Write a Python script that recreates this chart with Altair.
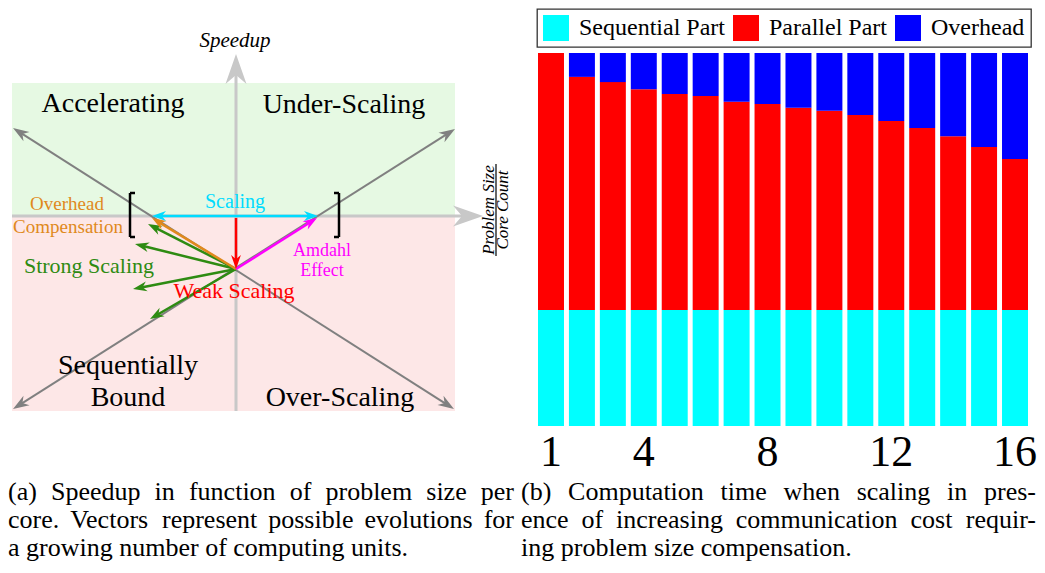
import math
import altair as alt
import pandas as pd

FONT = "Liberation Serif"

# ---------------- (b) stacked bars ----------------
core_counts = list(range(1, 17))
sequential_part = [31.1, 31.1, 31.1, 31.1, 31.1, 31.1, 31.1, 31.1,
                   31.1, 31.1, 31.1, 31.1, 31.1, 31.1, 31.1, 31.1]
parallel_part = [68.9, 62.5, 61.1, 59.2, 57.9, 57.4, 55.8, 55.2,
                 54.2, 53.4, 52.3, 50.7, 48.8, 46.6, 43.7, 40.5]
overhead_part = [0.0, 6.4, 7.8, 9.7, 11.0, 11.5, 13.1, 13.7,
                 14.7, 15.5, 16.6, 18.2, 20.1, 22.3, 25.2, 28.4]
series_names = ["Sequential Part", "Parallel Part", "Overhead"]
series_colors = ["#00ffff", "#ff0000", "#0000ff"]
core_tick_labels = [1, 4, 8, 12, 16]

caption_a = ["(a) Speedup in function of problem size per",
             "core. Vectors represent possible evolutions for",
             "a growing number of computing units."]
caption_b = ["(b) Computation time when scaling in pres-",
             "ence of increasing communication cost requir-",
             "ing problem size compensation."]

# ---------------- (a) diagram (origin = axes crossing, 1 unit = 1 px) ----------------
zone_x0 = [-224, -224]
zone_x1 = [219, 219]
zone_y0 = [0, -195]
zone_y1 = [133, 0]
zone_fill = ["#e6f9e3", "#fde7e7"]

GREEN = "#2e8b12"
ORANGE = "#e0891c"
CYAN = "#00dcff"
seg_x0 = [0, -224, -223, -223, 0, 0, 0, 0, 0, 0, 0, -84,
          -106, -106, -106, 103, 103, 103, 260]
seg_y0 = [-195, 0, 88, -193, -53, -53, -53, -53, -53, -2, -53, 0,
          23, 23, -21, 23, 23, -21, 52]
seg_x1 = [0, 247, 218, 219, -88, -101, -103, -86, -84, 0, 81, 82,
          -106, -101, -101, 103, 98, 98, 260]
seg_y1 = [162, 0, -193, 87, -8, -28, -73, -103, -2, -53, -2, 0,
          -21, 23, -21, -21, 23, -21, -40]
seg_color = ["#c8c8c8", "#c8c8c8", "#808080", "#808080",
             GREEN, GREEN, GREEN, GREEN, ORANGE, "#ff0000", "#ff00ff", CYAN,
             "black", "black", "black", "black", "black", "black", "black"]
seg_width = [3, 3, 2, 2, 2.5, 2.5, 2.5, 2.5, 2.5, 2.5, 2.5, 2.5,
             2.5, 2.5, 2.5, 2.5, 2.5, 2.5, 1.2]
seg_heads = ["end", "end", "both", "both", "end", "end", "end", "end", "end", "end", "end", "both",
             "none", "none", "none", "none", "none", "none", "none"]
seg_headtype = ["big", "big", "diag", "diag", "small", "small", "small", "small", "small",
                "small", "small", "small", "", "", "", "", "", "", ""]
head_radius = {"big": 15, "diag": 8, "small": 7}

quad_text = ["Accelerating", "Under-Scaling", "Sequentially", "Bound", "Over-Scaling"]
quad_x = [-123, 108, -108, -108, 104]
quad_y = [104, 103, -158, -190, -190]

vec_text = ["Scaling", "Overhead", "Compensation", "Strong Scaling", "Weak Scaling", "Amdahl", "Effect"]
vec_x = [-1, -169, -168, -147, -2, 86, 86]
vec_y = [8, 6, -17, -57, -82, -40, -60]
vec_size = [20, 19, 19, 22, 22, 18, 18]
vec_color = [CYAN, ORANGE, ORANGE, GREEN, "#ff0000", "#ff00ff", "#ff00ff"]

axis_title_y = ["Speedup"]
frac_text = ["Problem Size", "Core Count"]
frac_x = [253, 267]
frac_y = [6, 6]

# ---------------- build tables ----------------
HEAD = "M0,0 L-0.7,2 L0,1.4 L0.7,2 Z"
seg_rows, head_rows = [], []
for i in range(len(seg_x0)):
    x0, y0, x1, y1 = seg_x0[i], seg_y0[i], seg_x1[i], seg_y1[i]
    L = math.hypot(x1 - x0, y1 - y0)
    ux, uy = (x1 - x0) / L, (y1 - y0) / L
    r = head_radius.get(seg_headtype[i], 0)
    sx0, sy0, sx1, sy1 = x0, y0, x1, y1
    if seg_heads[i] in ("end", "both"):
        sx1, sy1 = x1 - ux * 1.2 * r, y1 - uy * 1.2 * r
        head_rows.append(dict(x=x1, y=y1, angle=math.degrees(math.atan2(ux, uy)) % 360,
                              size=(2 * r) ** 2, color=seg_color[i]))
    if seg_heads[i] == "both":
        sx0, sy0 = x0 + ux * 1.2 * r, y0 + uy * 1.2 * r
        head_rows.append(dict(x=x0, y=y0, angle=math.degrees(math.atan2(-ux, -uy)) % 360,
                              size=(2 * r) ** 2, color=seg_color[i]))
    seg_rows.append(dict(x=sx0, y=sy0, x2=sx1, y2=sy1, color=seg_color[i], w=seg_width[i]))

seg_df = pd.DataFrame(seg_rows)
head_df = pd.DataFrame(head_rows)
zone_df = pd.DataFrame(dict(x0=zone_x0, x1=zone_x1, y0=zone_y0, y1=zone_y1, fill=zone_fill))
quad_df = pd.DataFrame(dict(t=quad_text, x=quad_x, y=quad_y))
vec_df = pd.DataFrame(dict(t=vec_text, x=vec_x, y=vec_y, size=vec_size, color=vec_color))
ytitle_df = pd.DataFrame(dict(t=axis_title_y, x=[-1], y=[169]))
frac_df = pd.DataFrame(dict(t=frac_text, x=frac_x, y=frac_y))

# ---- justified captions (word placement with Times-compatible advance widths) ----
CAP_FS = 26
CAP_LH = 28
ADV = {' ': 250, '(': 333, ')': 333, '-': 333, '.': 250,
       'a': 444, 'b': 500, 'c': 444, 'd': 500, 'e': 444, 'f': 333, 'g': 500, 'h': 500,
       'i': 278, 'j': 278, 'k': 500, 'l': 278, 'm': 778, 'n': 500, 'o': 500, 'p': 500,
       'q': 500, 'r': 333, 's': 389, 't': 278, 'u': 500, 'v': 500, 'w': 722, 'x': 500,
       'y': 500, 'z': 444, 'S': 556, 'V': 722, 'C': 667}


def tw(s):
    return sum(ADV.get(c, 500) for c in s) / 1000.0 * CAP_FS


def justify(lines, x_start, x_end, y_first, dy):
    out_l, out_r = [], []
    for li, line in enumerate(lines):
        words = line.split()
        y = y_first - li * dy
        last = li == len(lines) - 1
        if last or len(words) < 2:
            gap = tw(" ")
        else:
            gap = (x_end - x_start - sum(tw(w) for w in words)) / (len(words) - 1)
        x = x_start
        for wi, w in enumerate(words):
            if not last and wi == len(words) - 1:
                out_r.append(dict(t=w, x=x_end, y=y))
            else:
                out_l.append(dict(t=w, x=x, y=y))
            x += tw(w) + gap
    return out_l, out_r


# diagram units: x = ref_px - 236, y = 215 - ref_px
la, ra = justify(caption_a, 8 - 236, 514 - 236, 215 - 499, CAP_LH)
lb, rb = justify(caption_b, 521 - 236, 1036 - 236, 215 - 499, CAP_LH)
cap_left_df = pd.DataFrame(la + lb)
cap_right_df = pd.DataFrame(ra + rb)

xs = alt.Scale(domain=[-228, 284], nice=False, zero=False)
ys = alt.Scale(domain=[-210, 163], nice=False, zero=False)


def X(f):
    return alt.X(f, type="quantitative", scale=xs, axis=None)


def Y(f):
    return alt.Y(f, type="quantitative", scale=ys, axis=None)


zones = alt.Chart(zone_df).mark_rect().encode(
    x=X("x0"), x2="x1", y=Y("y0"), y2="y1", color=alt.Color("fill:N", scale=None))
segs = alt.Chart(seg_df).mark_rule().encode(
    x=X("x"), y=Y("y"), x2="x2", y2="y2",
    color=alt.Color("color:N", scale=None),
    strokeWidth=alt.StrokeWidth("w:Q", scale=None))
heads = alt.Chart(head_df).mark_point(shape=HEAD, filled=True, opacity=1, strokeWidth=0).encode(
    x=X("x"), y=Y("y"),
    angle=alt.Angle("angle:Q", scale=None),
    size=alt.Size("size:Q", scale=None),
    color=alt.Color("color:N", scale=None))
quad = alt.Chart(quad_df).mark_text(font=FONT, fontSize=28, align="center",
                                    baseline="alphabetic", color="black").encode(
    x=X("x"), y=Y("y"), text="t:N")
vec = alt.Chart(vec_df).mark_text(font=FONT, align="center", baseline="alphabetic").encode(
    x=X("x"), y=Y("y"), text="t:N",
    size=alt.Size("size:Q", scale=None), color=alt.Color("color:N", scale=None))
ytitle = alt.Chart(ytitle_df).mark_text(font=FONT, fontSize=21, fontStyle="italic",
                                        align="center", baseline="alphabetic", color="black").encode(
    x=X("x"), y=Y("y"), text="t:N")
frac = alt.Chart(frac_df).mark_text(font=FONT, fontSize=17, fontStyle="italic", angle=270,
                                    align="center", baseline="middle", color="black").encode(
    x=X("x"), y=Y("y"), text="t:N")
cap_l = alt.Chart(cap_left_df).mark_text(font=FONT, fontSize=CAP_FS, align="left",
                                         baseline="alphabetic", color="black").encode(
    x=X("x"), y=Y("y"), text="t:N")
cap_r = alt.Chart(cap_right_df).mark_text(font=FONT, fontSize=CAP_FS, align="right",
                                          baseline="alphabetic", color="black").encode(
    x=X("x"), y=Y("y"), text="t:N")

left = alt.layer(zones, segs, heads, quad, vec, ytitle, frac, cap_l, cap_r).properties(
    width=512, height=373)

rows = []
for i, c in enumerate(core_counts):
    for k, (name, vals) in enumerate(zip(series_names, [sequential_part, parallel_part, overhead_part])):
        rows.append(dict(core=c, series=name, value=vals[i], order=k))
bar_df = pd.DataFrame(rows)

bars = alt.Chart(bar_df).mark_bar().encode(
    x=alt.X("core:O", title=None,
            scale=alt.Scale(paddingInner=0.16, paddingOuter=0),
            axis=alt.Axis(values=core_tick_labels, labelAngle=0, labelFont=FONT, labelFontSize=44,
                          labelColor="black", ticks=False, domain=False, grid=False,
                          labelPadding=4)),
    y=alt.Y("value:Q", stack="zero", scale=alt.Scale(domain=[0, 100], nice=False), axis=None),
    color=alt.Color("series:N",
                    scale=alt.Scale(domain=series_names, range=series_colors),
                    legend=alt.Legend(orient="none", legendX=-1, legendY=-44, direction="horizontal",
                                      title=None, symbolType="square", symbolSize=676,
                                      symbolStrokeWidth=0, labelFont=FONT, labelFontSize=24,
                                      labelColor="black", labelOffset=10, columnPadding=8,
                                      padding=6, strokeColor="#333333", fillColor="white")),
    order=alt.Order("order:Q", sort="ascending"),
).properties(width=490, height=373)

chart = alt.hconcat(left, bars, spacing=18, bounds="flush").resolve_scale(
    x="independent", y="independent", color="independent", size="independent"
).configure_view(stroke=None).configure_legend(strokeWidth=1.3).properties(padding=0)

chart.save("out.html", embed_options={"renderer": "svg", "actions": False})
